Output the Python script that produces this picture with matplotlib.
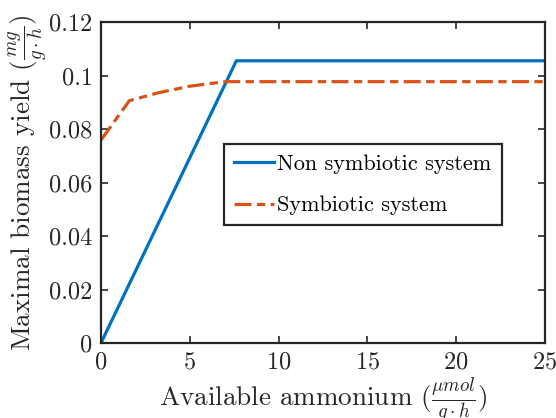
import matplotlib
matplotlib.use("Agg")
import matplotlib.pyplot as plt

# data
non_sym_x = [0, 7.62, 25]
non_sym_y = [0, 0.1055, 0.1055]
sym_x = [0, 1.6, 3.2, 5.0, 7.0, 25]
sym_y = [0.0759, 0.0906, 0.0935, 0.0960, 0.0977, 0.0977]

x_ticks = [0, 5, 10, 15, 20, 25]
y_ticks = [0, 0.02, 0.04, 0.06, 0.08, 0.1, 0.12]
y_tick_labels = ["0", "0.02", "0.04", "0.06", "0.08", "0.1", "0.12"]

plt.rcParams.update({
    "font.family": "serif",
    "font.serif": ["cmr10"],
    "mathtext.fontset": "cm",
    "axes.formatter.use_mathtext": True,
    "axes.unicode_minus": False,
})

fig = plt.figure(figsize=(5.56, 4.18), dpi=100)
ax = fig.add_axes([101 / 556, 1 - 343 / 418, 444 / 556, 321 / 418])

ax.plot(non_sym_x, non_sym_y, color="#0072BD", lw=2.3, label="Non symbiotic system")
ax.plot(sym_x, sym_y, color="#D95319", lw=2.3, ls=(0, (5.3, 1.7, 2.6, 1.7)),
        dash_capstyle="butt", label="Symbiotic system")

ax.set_xlim(0, 25)
ax.set_ylim(0, 0.12)
ax.set_xticks(x_ticks)
ax.set_yticks(y_ticks)
ax.set_yticklabels(y_tick_labels)
ax.tick_params(direction="in", top=True, right=True, length=5, width=1.2,
               labelsize=17.5, color="#262626", labelcolor="#262626", pad=6)
for s in ax.spines.values():
    s.set_linewidth(1.6)
    s.set_color("#262626")

ax.set_xlabel(r"Available ammonium ($\frac{\mu mol}{g\cdot h}$)", fontsize=19.5,
              color="#262626")
ax.set_ylabel(r"Maximal biomass yield ($\frac{mg}{g\cdot h}$)", fontsize=19.5,
              color="#262626")
ax.xaxis.set_label_coords(0.5, -0.10)
ax.yaxis.set_label_coords(-0.112, 0.5)

leg = ax.legend(loc="upper left", bbox_to_anchor=(123 / 444, 1 - 122 / 321),
                fontsize=16, frameon=True, fancybox=False, handlelength=1.8,
                handletextpad=0.15, borderpad=0.45, labelspacing=1.0, borderaxespad=0)
leg.get_frame().set_edgecolor("#262626")
leg.get_frame().set_linewidth(1.6)
leg.get_frame().set_alpha(1)

fig.savefig("out.png", dpi=100)
